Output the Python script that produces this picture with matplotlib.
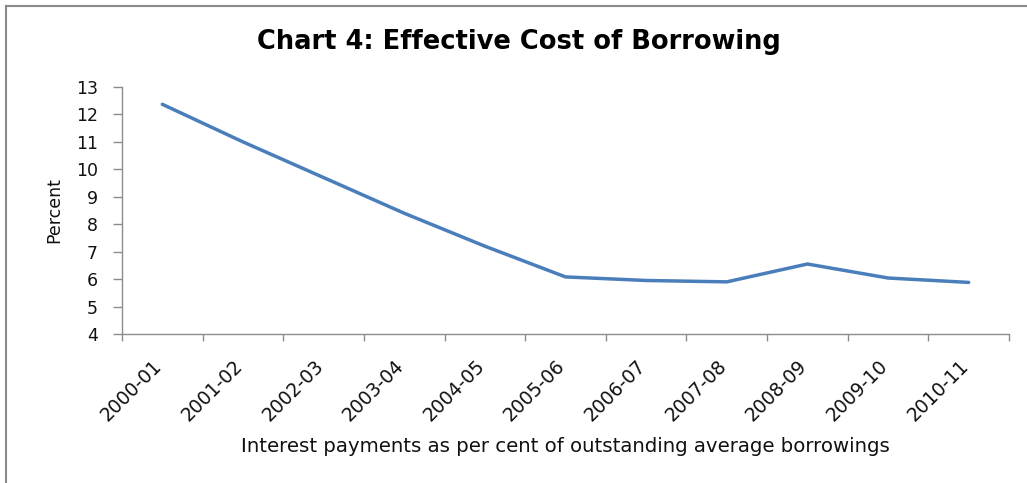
import matplotlib
matplotlib.use("Agg")
import matplotlib.pyplot as plt
import matplotlib.transforms as mtransforms
from matplotlib.lines import Line2D

# Effective cost of borrowing, per cent
years = ["2000-01", "2001-02", "2002-03", "2003-04", "2004-05", "2005-06",
         "2006-07", "2007-08", "2008-09", "2009-10", "2010-11"]
cost = [12.37, 11.0, 9.7, 8.4, 7.2, 6.08, 5.95, 5.90, 6.55, 6.04, 5.88]
y_ticks = [4, 5, 6, 7, 8, 9, 10, 11, 12, 13]

W, H, DPI = 1027, 483, 100
fig = plt.figure(figsize=(W / DPI, H / DPI), dpi=DPI, facecolor="white")
font = "DejaVu Sans"
text_col = "#111111"
axis_grey = "#8c8c8c"

# axes placed in pixel coordinates: x 122..1009, y 87..334 (from top)
left, right, top, bottom = 122, 1009, 87, 334
ax = fig.add_axes([left / W, 1 - bottom / H, (right - left) / W, (bottom - top) / H])

x = list(range(len(years)))
ax.plot(x, cost, color="#4a7ebb", lw=2.5, solid_capstyle="round",
        solid_joinstyle="round")

ax.set_xlim(-0.5, len(years) - 0.5)
ax.set_ylim(y_ticks[0], y_ticks[-1])

# category boundaries carry the tick marks, centres carry the labels
ax.set_xticks([i - 0.5 for i in range(len(years) + 1)])
ax.set_xticklabels([])
ax.set_xticks(x, minor=True)
ax.set_xticklabels(years, minor=True, rotation=45, ha="right", va="top",
                   rotation_mode="anchor", fontsize=13.5, family=font,
                   color=text_col)
ax.tick_params(axis="x", which="minor", length=0, pad=16)
ax.tick_params(axis="x", which="major", length=5, width=1, color=axis_grey,
               direction="out")
offset = mtransforms.ScaledTranslation(-10 / DPI, 0, fig.dpi_scale_trans)
for lab in ax.get_xticklabels(minor=True):
    lab.set_transform(lab.get_transform() + offset)

ax.set_yticks(y_ticks)
ax.set_yticklabels([str(v) for v in y_ticks], fontsize=12.5, family=font,
                   color=text_col)
ax.tick_params(axis="y", length=6.5, width=1, color=axis_grey, direction="out",
               pad=11)

for side in ("top", "right"):
    ax.spines[side].set_visible(False)
for side in ("left", "bottom"):
    ax.spines[side].set_color(axis_grey)
    ax.spines[side].set_linewidth(1)

ax.set_ylabel("Percent", fontsize=12.5, family=font, color=text_col,
              labelpad=9)

fig.text(519 / W, 1 - 42 / H, "Chart 4: Effective Cost of Borrowing",
         ha="center", va="center", fontsize=18.5, fontweight="bold",
         family=font, color="#000000")
fig.text(565 / W, 1 - 446 / H,
         "Interest payments as per cent of outstanding average borrowings",
         ha="center", va="center", fontsize=14.2, family=font,
         color=text_col)

# outer chart border along the top and left edges
frame_col = "#8a8a8a"
fig.add_artist(Line2D([5.5 / W, 1], [1 - 5.5 / H, 1 - 5.5 / H],
                      transform=fig.transFigure, color=frame_col, lw=1.5))
fig.add_artist(Line2D([5.5 / W, 5.5 / W], [0, 1 - 5.5 / H],
                      transform=fig.transFigure, color=frame_col, lw=1.5))

fig.savefig("out.png", dpi=DPI, facecolor="white")
